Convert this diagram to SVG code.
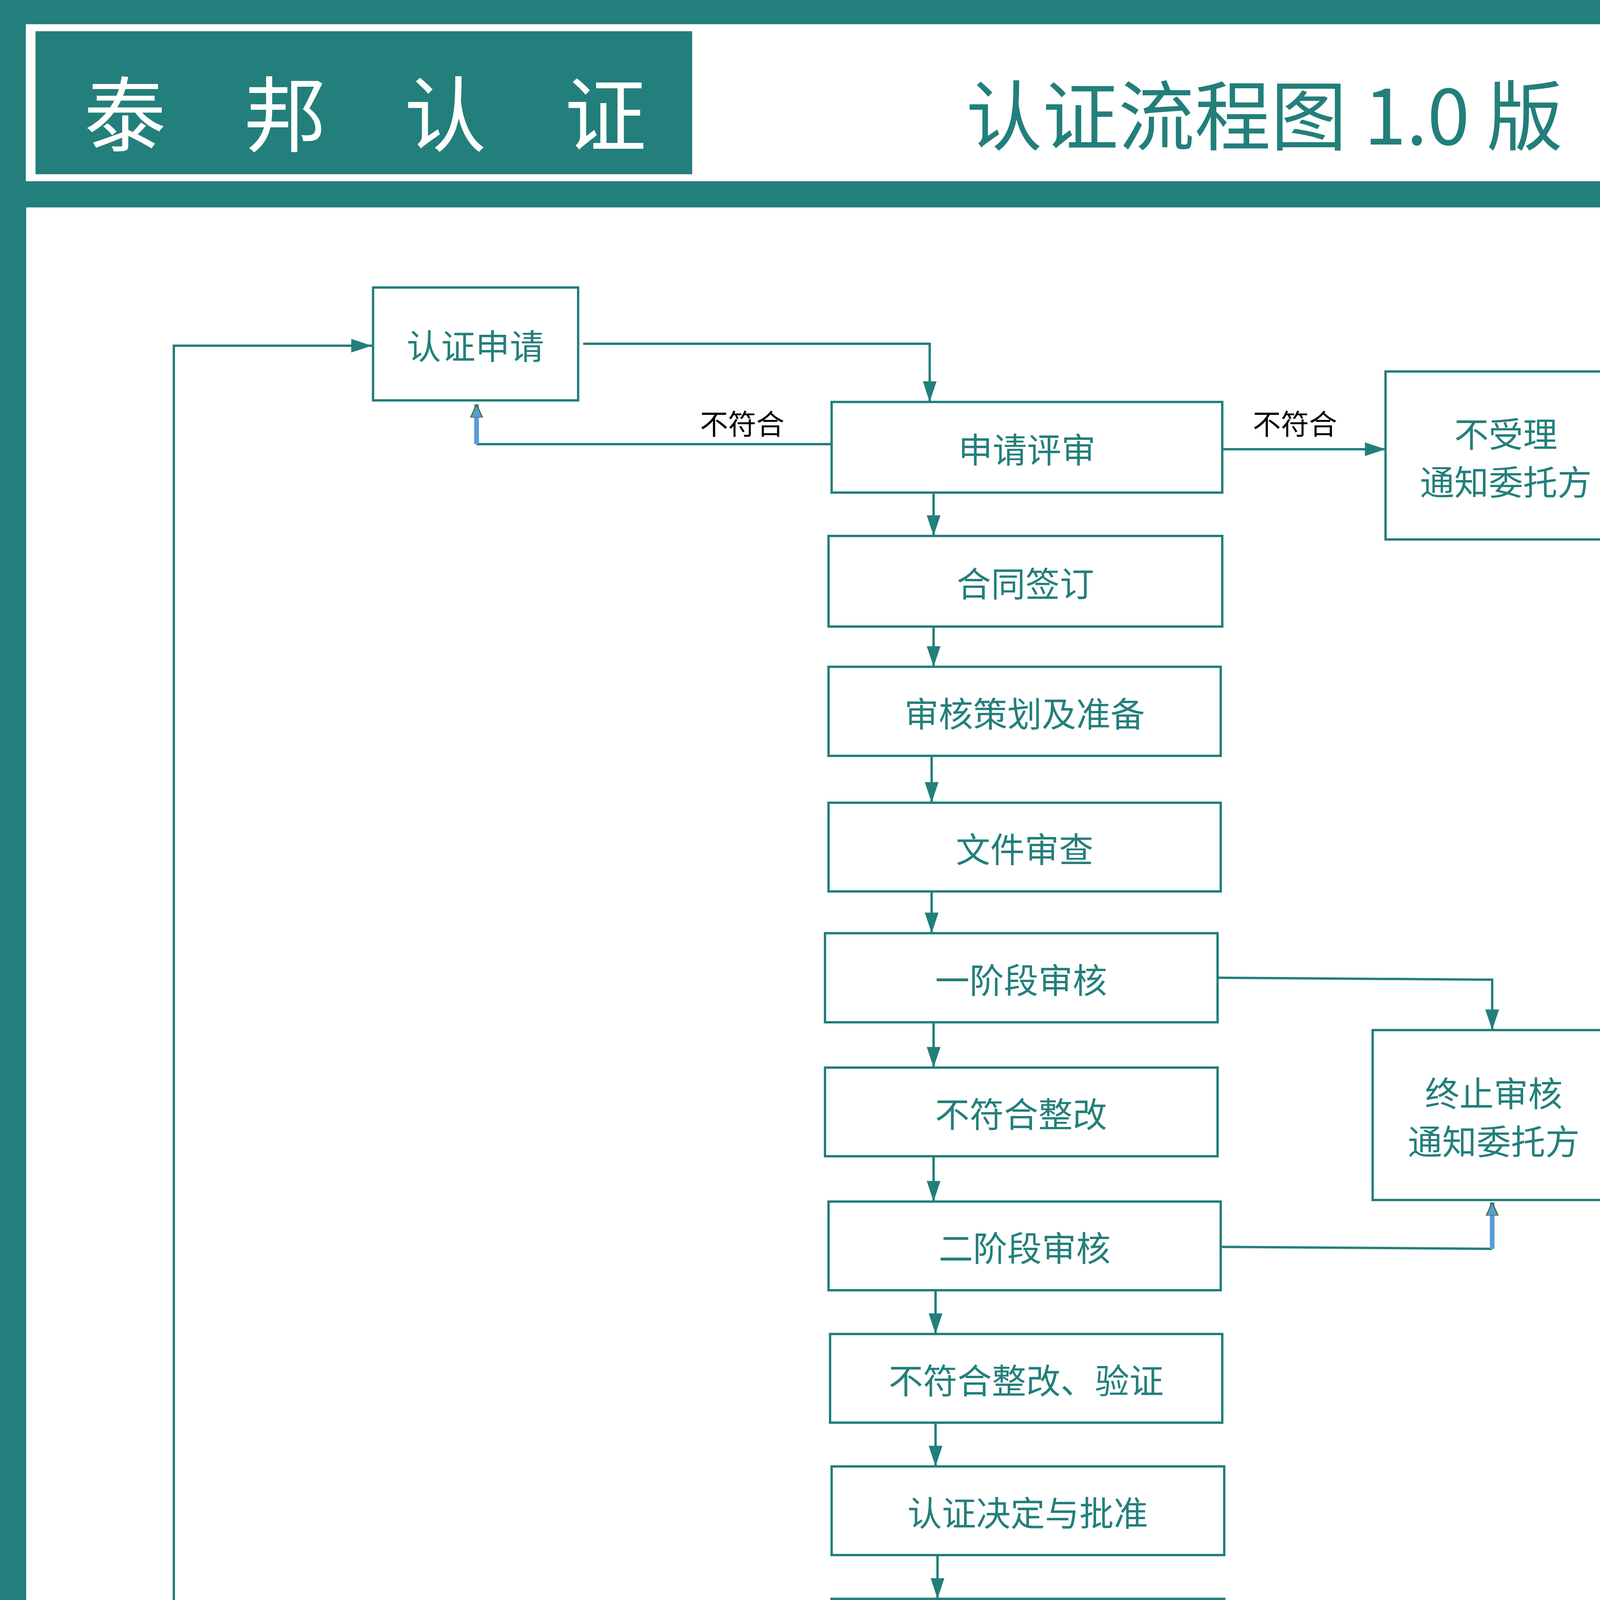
<svg xmlns="http://www.w3.org/2000/svg" width="4762" height="6478" viewBox="0 0 4762 6478">
<style>
.n{fill:#fff;stroke:#237F7B;stroke-width:6}
.t{font-family:"Noto Sans CJK SC",sans-serif;font-size:88px;fill:#237F7B;text-anchor:middle;dominant-baseline:central}
.l{font-family:"Noto Sans CJK SC",sans-serif;font-size:72px;fill:#000;text-anchor:middle;dominant-baseline:central}
.c{fill:none;stroke:#237F7B;stroke-width:6}
.h{font-family:"Noto Sans CJK SC",sans-serif;font-size:210px;fill:#fff;text-anchor:middle;dominant-baseline:central}
</style>
<defs>
<marker id="a" viewBox="0 0 12 10" refX="12" refY="5" markerWidth="55" markerHeight="44" markerUnits="userSpaceOnUse" orient="auto"><path d="M0,1L12,5L0,9z" fill="#237F7B"/></marker>
<marker id="b" viewBox="0 0 10 10" refX="10" refY="5" markerWidth="34" markerHeight="34" markerUnits="userSpaceOnUse" orient="auto"><path d="M0,0.5L10,5L0,9.5z" fill="#5B9BD5" stroke="#3a6e1e" stroke-width="0.8"/></marker>
</defs>
<rect width="4762" height="6478" fill="#237F7B"/>
<rect x="66" y="62" width="4626" height="402" fill="#fff"/>
<rect x="91" y="80" width="1681" height="366" fill="#237F7B"/>
<rect x="67" y="531" width="4635" height="5885" fill="#fff"/>
<text class="h" x="320" y="280">泰</text>
<text class="h" x="730" y="280">邦</text>
<text class="h" x="1140" y="280">认</text>
<text class="h" x="1550" y="280">证</text>
<text x="3237" y="285" font-family="Noto Sans CJK SC,sans-serif" font-size="195" fill="#237F7B" text-anchor="middle" dominant-baseline="central">认证流程图 1.0 版</text>
<g id="connectors">
<path class="c" d="M2129,5470H445V885H952" marker-end="url(#a)"/>
<path class="c" d="M1493,880H2380V1029" marker-end="url(#a)"/>
<path class="c" d="M2129,1137H1220"/>
<path d="M1220,1137V1035" stroke="#5B9BD5" stroke-width="12" marker-end="url(#b)"/>
<path class="c" d="M3129,1150H3547" marker-end="url(#a)"/>
<path class="c" d="M2390,1261V1372" marker-end="url(#a)"/>
<path class="c" d="M2390,1604V1707" marker-end="url(#a)"/>
<path class="c" d="M2385,1935V2055" marker-end="url(#a)"/>
<path class="c" d="M2385,2282V2389" marker-end="url(#a)"/>
<path class="c" d="M2390,2617V2733" marker-end="url(#a)"/>
<path class="c" d="M2390,2960V3076" marker-end="url(#a)"/>
<path class="c" d="M2395,3303V3415" marker-end="url(#a)"/>
<path class="c" d="M2395,3642V3754" marker-end="url(#a)"/>
<path class="c" d="M2400,3981V4093" marker-end="url(#a)"/>
<path class="c" d="M3117,2503L3820,2508V2637" marker-end="url(#a)"/>
<path class="c" d="M3125,3192L3820,3197"/>
<path d="M3820,3197V3078" stroke="#5B9BD5" stroke-width="12" marker-end="url(#b)"/>
<path class="c" d="M2400,4320V4427"/>
<path class="c" d="M2133,4427H3130"/>
<path class="c" d="M2133,4427V4547" marker-end="url(#a)"/>
<path class="c" d="M3130,4427V4547" marker-end="url(#a)"/>
<path class="c" d="M1455,4618L1092,4613" marker-end="url(#a)"/>
<path class="c" d="M1110,4695L1470,4692" marker-end="url(#a)"/>
<path class="c" d="M820,4762V4891" marker-end="url(#a)"/>
<path class="c" d="M2130,4779V4878" marker-end="url(#a)"/>
<path class="c" d="M3140,4779V4878" marker-end="url(#a)"/>
<path class="c" d="M2137,5110L2135,5250H3135L3137,5110"/>
<path class="c" d="M2400,5250V5358" marker-end="url(#a)"/>
<text class="l" x="1900" y="1080">不符合</text>
<text class="l" x="3315" y="1080">不符合</text>
</g>
<g id="n1"><rect class="n" x="955" y="736" width="525" height="289"/><text class="t" x="1217" y="880">认证申请</text></g>
<g id="n2"><rect class="n" x="2129" y="1029" width="1000" height="232"/><text class="t" x="2629" y="1145">申请评审</text></g>
<g id="n3"><rect class="n" x="3547" y="951" width="616" height="430"/><text class="t" x="3855" y="1105">不受理</text><text class="t" x="3855" y="1228">通知委托方</text></g>
<g id="n4"><rect class="n" x="2121" y="1372" width="1008" height="232"/><text class="t" x="2625" y="1488">合同签订</text></g>
<g id="n5"><rect class="n" x="2121" y="1707" width="1004" height="228"/><text class="t" x="2623" y="1821">审核策划及准备</text></g>
<g id="n6"><rect class="n" x="2121" y="2055" width="1004" height="227"/><text class="t" x="2623" y="2168">文件审查</text></g>
<g id="n7"><rect class="n" x="2112" y="2389" width="1005" height="228"/><text class="t" x="2614" y="2503">一阶段审核</text></g>
<g id="n8"><rect class="n" x="3514" y="2637" width="620" height="435"/><text class="t" x="3824" y="2793">终止审核</text><text class="t" x="3824" y="2916">通知委托方</text></g>
<g id="n9"><rect class="n" x="2112" y="2733" width="1005" height="227"/><text class="t" x="2614" y="2846">不符合整改</text></g>
<g id="n10"><rect class="n" x="2121" y="3076" width="1004" height="227"/><text class="t" x="2623" y="3189">二阶段审核</text></g>
<g id="n11"><rect class="n" x="2125" y="3415" width="1004" height="227"/><text class="t" x="2627" y="3528">不符合整改、验证</text></g>
<g id="n12"><rect class="n" x="2129" y="3754" width="1005" height="227"/><text class="t" x="2631" y="3867">认证决定与批准</text></g>
<g id="n13"><rect class="n" x="2129" y="4093" width="1005" height="227"/><text class="t" x="2631" y="4206">注册发证</text></g>
<g id="n14"><rect class="n" x="570" y="4552" width="501" height="210"/><text class="t" x="820" y="4657">暂停</text></g>
<g id="n15"><rect class="n" x="1488" y="4547" width="1001" height="232"/><text class="t" x="1988" y="4663">有效期监督审核</text></g>
<g id="n16"><rect class="n" x="2815" y="4547" width="1005" height="232"/><text class="t" x="3317" y="4663">扩大/缩小审核</text></g>
<g id="n17"><rect class="n" x="575" y="4891" width="500" height="210"/><text class="t" x="825" y="4996">撤销</text></g>
<g id="n18"><rect class="n" x="1492" y="4878" width="1001" height="232"/><text class="t" x="1992" y="4994">保持注册资格</text></g>
<g id="n19"><rect class="n" x="2819" y="4878" width="1005" height="232"/><text class="t" x="3321" y="4994">换发证书</text></g>
<g id="n20"><rect class="n" x="2129" y="5358" width="1005" height="231"/><text class="t" x="2631" y="5473">再认证</text></g>
</svg>
